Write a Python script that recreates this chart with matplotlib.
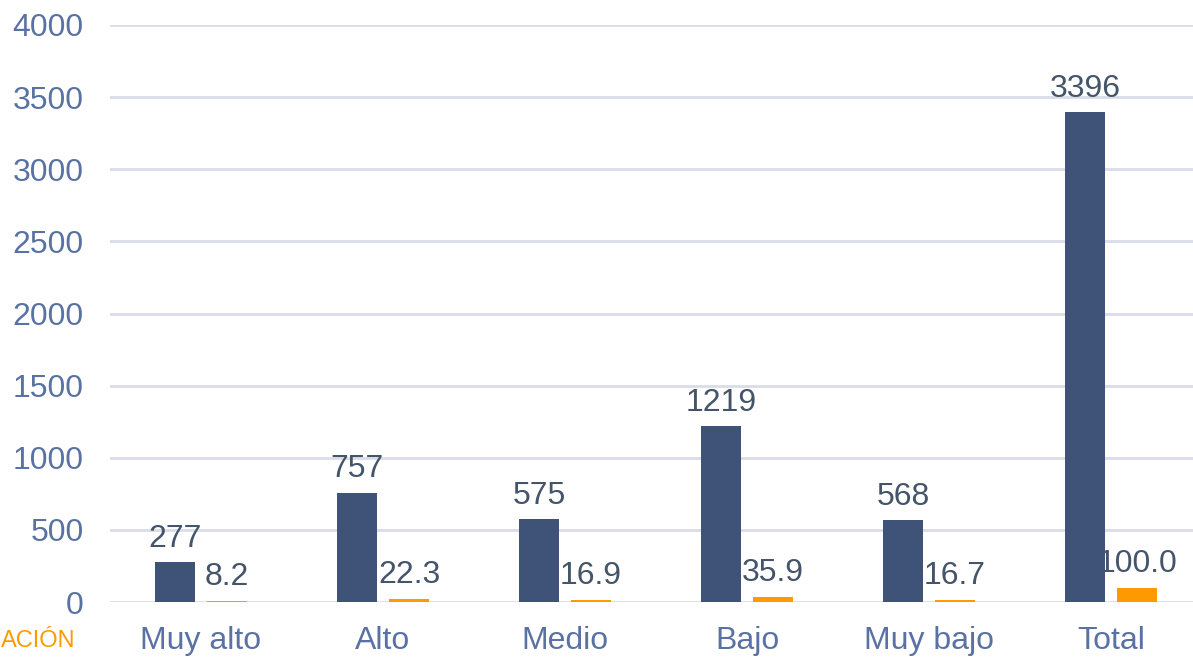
import matplotlib.pyplot as plt
import numpy as np

plt.rcParams['font.family'] = ['Liberation Sans', 'DejaVu Sans']

categories = ["Muy alto", "Alto", "Medio", "Bajo", "Muy bajo", "Total"]
counts = [277, 757, 575, 1219, 568, 3396]
percents = [8.2, 22.3, 16.9, 35.9, 16.7, 100.0]

dark = "#3F5277"
orange = "#FF9900"
label_col = "#44546A"
tick_col = "#5A72A3"
grid_col = "#D9DDE8"

fig = plt.figure(figsize=(11.93, 6.57), dpi=100)
ax = fig.add_axes([110 / 1193, 55 / 657, 1092 / 1193, 577 / 657])

x = np.arange(len(categories))
w = 0.22
off = 0.143
b1 = ax.bar(x - off, counts, w, color=dark, zorder=3)
b2 = ax.bar(x + off, percents, w, color=orange, zorder=3)

for rect, v in zip(b1, counts):
    ax.annotate(str(v), (rect.get_x() + rect.get_width() / 2, rect.get_height()),
                xytext=(0, 6), textcoords="offset points", ha="center", va="bottom",
                fontsize=23, color=label_col)
for rect, v in zip(b2, percents):
    ax.annotate(f"{v:.1f}", (rect.get_x() + rect.get_width() / 2, rect.get_height()),
                xytext=(0, 6), textcoords="offset points", ha="center", va="bottom",
                fontsize=23, color=label_col)

ax.set_xlim(-0.5, 5.5)
ax.set_ylim(0, 4000)
ax.set_yticks(range(0, 4001, 500))
ax.set_xticks(x)
ax.set_xticklabels(categories)
ax.tick_params(axis="both", length=0, labelsize=23, labelcolor=tick_col)
ax.tick_params(axis="y", pad=19)
ax.tick_params(axis="x", pad=17)
ax.grid(axis="y", color=grid_col, linewidth=2, zorder=0)
for s in ax.spines.values():
    s.set_visible(False)

# the source shows this label cut at the left edge; only its visible part is kept
fig.text(1 / 1193, 16 / 657, "ACIÓN", ha="left", va="center", fontsize=17, color=orange)

fig.savefig("out.png", dpi=100)
